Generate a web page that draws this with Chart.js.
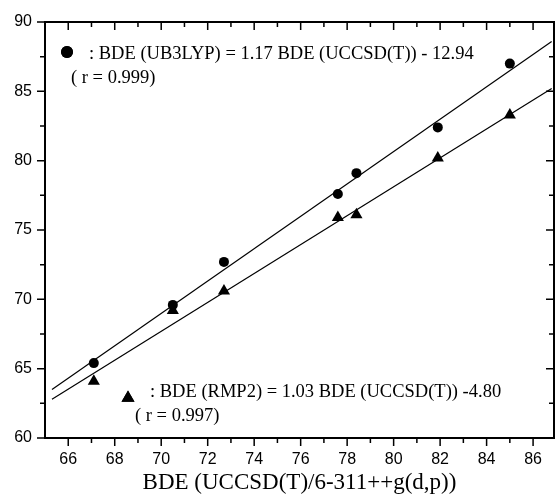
<!DOCTYPE html>
<html>
<head>
<meta charset="utf-8">
<script src="https://cdn.jsdelivr.net/npm/chart.js@4.4.1/dist/chart.umd.min.js"></script>
<style>
  html, body { margin: 0; padding: 0; background: #fff; }
  canvas { display: block; }
</style>
</head>
<body>
<canvas id="bdeChart" width="555" height="494"></canvas>
<script>
// BDE values
const bdeRef = [67.1, 70.5, 72.7, 77.6, 78.4, 81.9, 85.0];
const bdeB3lyp = [65.4, 69.6, 72.7, 77.6, 79.1, 82.4, 87.0];
const bdeMp2 = [64.1, 69.2, 70.6, 75.9, 76.1, 80.2, 83.3];

// regression lines, end points
const fitX = [65.3, 86.8];
const fitB3lyp = [63.5, 88.6];
const fitMp2 = [62.8, 85.2];

const xTicks = [66, 68, 70, 72, 74, 76, 78, 80, 82, 84, 86];
const yTicks = [60, 65, 70, 75, 80, 85, 90];

const legendB3lyp = [': BDE (UB3LYP) = 1.17 BDE (UCCSD(T)) - 12.94', '( r = 0.999)'];
const legendMp2 = [': BDE (RMP2) = 1.03 BDE (UCCSD(T)) -4.80', '( r = 0.997)'];

const toPts = (xs, ys) => xs.map((x, i) => ({ x: x, y: ys[i] }));

// frame, ticks on all four sides (minor ticks too) and the text notes
const framePlugin = {
    id: 'frame',
    afterDraw(chart) {
        const { ctx, chartArea: a, scales: { x, y } } = chart;
        ctx.save();
        ctx.strokeStyle = '#000';
        ctx.lineWidth = 2;
        ctx.strokeRect(a.left, a.top, a.right - a.left, a.bottom - a.top);

        ctx.lineWidth = 1.5;
        ctx.beginPath();
        for (let v = 66; v <= 86; v++) {
            const px = x.getPixelForValue(v);
            const len = v % 2 === 0 ? 8 : 5;
            ctx.moveTo(px, a.bottom);
            ctx.lineTo(px, a.bottom + len);
            ctx.moveTo(px, a.top);
            ctx.lineTo(px, a.top + len);
        }
        for (let v = 60; v <= 90; v += 2.5) {
            const py = y.getPixelForValue(v);
            const len = v % 5 === 0 ? 8 : 5;
            ctx.moveTo(a.left, py);
            ctx.lineTo(a.left - len, py);
            ctx.moveTo(a.right, py);
            ctx.lineTo(a.right - len, py);
        }
        ctx.stroke();

        // notes
        ctx.fillStyle = '#000';
        ctx.font = '18.5px "Liberation Serif", "Times New Roman", serif';
        ctx.textBaseline = 'alphabetic';
        ctx.textAlign = 'left';
        ctx.fillText(legendB3lyp[0], 89, 59);
        ctx.fillText(legendB3lyp[1], 71, 83);
        ctx.fillText(legendMp2[0], 150, 397);
        ctx.fillText(legendMp2[1], 135, 421);

        Chart.helpers.drawPoint(ctx, { pointStyle: 'circle', radius: 6, borderWidth: 0 }, 67, 52);
        ctx.fill();
        Chart.helpers.drawPoint(ctx, { pointStyle: 'triangle', radius: 7.5, borderWidth: 0 }, 128, 398);
        ctx.fill();
        ctx.restore();
    }
};

const ctx = document.getElementById('bdeChart').getContext('2d');
new Chart(ctx, {
    type: 'scatter',
    data: {
        datasets: [
            {
                label: 'UB3LYP',
                data: toPts(bdeRef, bdeB3lyp),
                pointStyle: 'circle',
                pointRadius: 5,
                backgroundColor: '#000',
                borderColor: '#000',
                borderWidth: 0
            },
            {
                label: 'RMP2',
                data: toPts(bdeRef, bdeMp2),
                pointStyle: 'triangle',
                pointRadius: 7,
                backgroundColor: '#000',
                borderColor: '#000',
                borderWidth: 0
            },
            {
                label: 'fit UB3LYP',
                type: 'line',
                data: toPts(fitX, fitB3lyp),
                borderColor: '#000',
                borderWidth: 1.2,
                pointRadius: 0,
                fill: false
            },
            {
                label: 'fit RMP2',
                type: 'line',
                data: toPts(fitX, fitMp2),
                borderColor: '#000',
                borderWidth: 1.2,
                pointRadius: 0,
                fill: false
            }
        ]
    },
    options: {
        responsive: false,
        animation: false,
        layout: { autoPadding: false, padding: { top: 22, right: 1, left: 0, bottom: 0 } },
        plugins: {
            legend: { display: false },
            tooltip: { enabled: false }
        },
        scales: {
            x: {
                type: 'linear',
                min: 65,
                max: 86.9,
                afterBuildTicks: (s) => { s.ticks = xTicks.map(v => ({ value: v })); },
                afterFit: (s) => {
                    s.height = 56;
                    s.paddingLeft = 0;
                    s.paddingRight = 0;
                },
                grid: { display: false, tickLength: 8 },
                border: { display: false },
                ticks: {
                    color: '#000',
                    padding: 4,
                    maxRotation: 0,
                    font: { family: '"Liberation Sans", Arial, sans-serif', size: 16 }
                },
                title: {
                    display: true,
                    text: 'BDE (UCCSD(T)/6-311++g(d,p))',
                    color: '#000',
                    padding: { top: 0, bottom: 0 },
                    font: { family: '"Liberation Serif", "Times New Roman", serif', size: 23, lineHeight: 1 }
                }
            },
            y: {
                type: 'linear',
                min: 60,
                max: 90,
                afterBuildTicks: (s) => { s.ticks = yTicks.map(v => ({ value: v })); },
                afterFit: (s) => {
                    s.width = 45;
                    s.paddingTop = 0;
                    s.paddingBottom = 0;
                },
                grid: { display: false, tickLength: 8 },
                border: { display: false },
                ticks: {
                    color: '#000',
                    padding: 5,
                    font: { family: '"Liberation Sans", Arial, sans-serif', size: 16 }
                }
            }
        }
    },
    plugins: [framePlugin]
});
</script>
</body>
</html>
